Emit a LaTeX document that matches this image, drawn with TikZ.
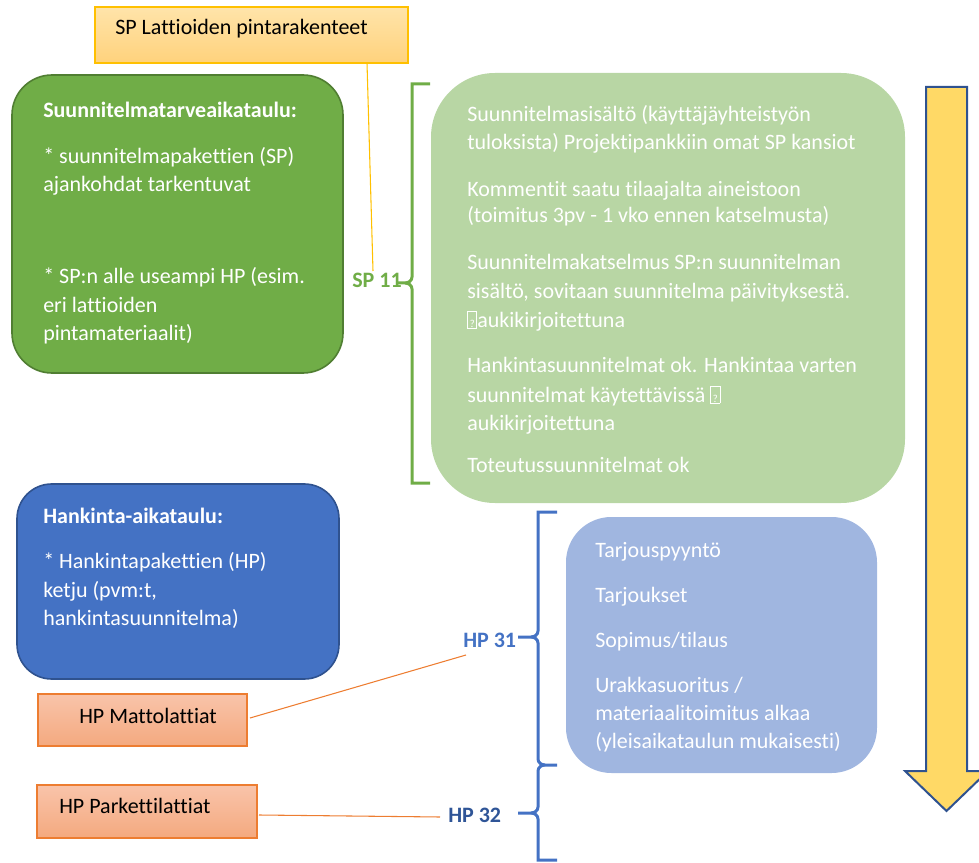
\documentclass[tikz,border=0pt]{standalone}
\usepackage{fontspec}
\setmainfont{Carlito}[Ligatures={NoCommon,NoRequired,NoContextual}]
\definecolor{gA}{HTML}{70AD47}
\definecolor{gB}{HTML}{507E32}
\definecolor{gL}{HTML}{B8D6A4}
\definecolor{bA}{HTML}{4472C4}
\definecolor{bB}{HTML}{2F528F}
\definecolor{bD}{HTML}{2F5597}
\definecolor{bL}{HTML}{A0B6E0}
\definecolor{yT}{HTML}{FFE4AA}
\definecolor{yB}{HTML}{FFD27C}
\definecolor{yE}{HTML}{FFC000}
\definecolor{oT}{HTML}{F9C4AA}
\definecolor{oB}{HTML}{F4A97F}
\definecolor{oE}{HTML}{ED7D31}
\definecolor{arF}{HTML}{FFD966}
\newcommand{\qbox}{\raisebox{-0.5pt}{\fboxsep=0pt\fboxrule=0.6pt\framebox[7.5pt][c]{\rule{0pt}{12pt}\fontsize{8}{8}\selectfont ?}}}
\begin{document}
\begin{tikzpicture}[x=0.75pt,y=-0.75pt,
  txt/.style={anchor=base west, inner sep=0pt, text=white, font=\fontsize{16.5}{21}\selectfont},
  btxt/.style={txt, font=\fontsize{16.5}{21}\selectfont\bfseries},
  ktxt/.style={txt, text=black},
  gbrace/.style={draw=gA, line width=2.25pt},
  bbrace/.style={draw=bA, line width=2.25pt},
  boxbase/.style={inner sep=0pt}
]
\useasboundingbox (0,0) rectangle (979,863);
\clip (0,0) rectangle (979,863);

% arrow
\draw[draw=bB, line width=1.5pt, fill=arF, line join=miter]
  (926,87) -- (967,87) -- (967,771) -- (988,771) -- (946.5,811) -- (905,771) -- (926,771) -- cycle;

% boxes
\node[boxbase, draw=yE, line width=0.8pt, top color=yT, bottom color=yB, minimum width=234.75pt, minimum height=42pt] (yb) at (251.5,35) {};
\node[boxbase, draw=gB, line width=1.2pt, fill=gA, rounded corners=30pt, minimum width=248.25pt, minimum height=223.5pt] (gbox) at (177.5,224) {};
\node[boxbase, fill=gL, rounded corners=48pt, minimum width=355.5pt, minimum height=322.5pt] (lgbox) at (668,288) {};
\node[boxbase, draw=bB, line width=1.2pt, fill=bA, rounded corners=26pt, minimum width=241.5pt, minimum height=146.25pt] (bbox) at (178,581.5) {};
\node[boxbase, fill=bL, rounded corners=34pt, minimum width=233.25pt, minimum height=192pt] (lbbox) at (721.5,645) {};
\node[boxbase, draw=oE, line width=0.8pt, top color=oT, bottom color=oB, minimum width=156.75pt, minimum height=39pt] (ob1) at (142.5,720) {};
\node[boxbase, draw=oE, line width=0.8pt, top color=oT, bottom color=oB, minimum width=165pt, minimum height=39.75pt] (ob2) at (147,811.5) {};

% yellow & orange labels
\node[ktxt] (ybt) at (115,35) {SP Lattioiden pintarakenteet};
\node[ktxt] (ob1t) at (79,723) {HP Mattolattiat};
\node[ktxt] (ob2t) at (59,813) {HP Parkettilattiat};

% green box text
\node[btxt] (g1) at (43,118) {Suunnitelmatarveaikataulu:};
\node[txt] (g2) at (43,164) {* suunnitelmapakettien (SP)};
\node[txt] (g3) at (43,192) {ajankohdat tarkentuvat};
\node[txt] (g4) at (43,283) {* SP:n alle useampi HP (esim.};
\node[txt] (g5) at (43,312) {eri lattioiden};
\node[txt] (g6) at (43,340) {pintamateriaalit)};

% light green text
\node[txt] (l1) at (467,122) {Suunnitelmasisältö (käyttäjäyhteistyön};
\node[txt] (l2) at (467,150) {tuloksista) Projektipankkiin omat SP kansiot};
\node[txt] (l3) at (467,197) {Kommentit saatu tilaajalta aineistoon};
\node[txt] (l4) at (467,223) {(toimitus 3pv - 1 vko ennen katselmusta)};
\node[txt] (l5) at (467,270) {Suunnitelmakatselmus SP:n suunnitelman};
\node[txt] (l6) at (467,298) {sisältö, sovitaan suunnitelma päivityksestä.};
\node[txt] (l7) at (467,327) {\qbox aukikirjoitettuna};
\node[txt] (l8) at (467,372) {Hankintasuunnitelmat ok. Hankintaa varten};
\node[txt] (l9) at (467,402) {suunnitelmat käytettävissä \qbox};
\node[txt] (l10) at (467,430) {aukikirjoitettuna};
\node[txt] (l11) at (467,472) {Toteutussuunnitelmat ok};

% blue box text
\node[btxt] (b1) at (43,523) {Hankinta-aikataulu:};
\node[txt] (b2) at (43,568) {* Hankintapakettien (HP)};
\node[txt] (b3) at (43,597) {ketju (pvm:t,};
\node[txt] (b4) at (43,625) {hankintasuunnitelma)};

% light blue text
\node[txt] (p1) at (595,557) {Tarjouspyyntö};
\node[txt] (p2) at (595,602) {Tarjoukset};
\node[txt] (p3) at (595,647) {Sopimus/tilaus};
\node[txt] (p4) at (595,692) {Urakkasuoritus /};
\node[txt] (p5) at (595,720) {materiaalitoimitus alkaa};
\node[txt] (p6) at (595,748) {(yleisaikataulun mukaisesti)};

% bracket labels
\node[btxt, text=gA] (sp11) at (352,287) {SP 11};
\node[btxt, text=bA] (hp31) at (463,647) {HP 31};
\node[btxt, text=bD] (hp32) at (448,822) {HP 32};

% braces
\draw[gbrace] (430,84) -- (412,84) -- (412,277) to[out=270,in=0] (405,283) -- (396,283);
\draw[gbrace] (405,283) to[out=0,in=90] (412,289) -- (412,483) -- (430,483);
\draw[bbrace] (557,512) -- (538,512) -- (538,631) to[out=270,in=0] (531,637) -- (518,637);
\draw[bbrace] (531,637) to[out=0,in=90] (538,643) -- (538,759) to[out=270,in=180] (545,765) -- (557,765);
\draw[bbrace] (545,765) to[out=180,in=90] (538,771) -- (538,807) to[out=270,in=0] (531,813) -- (518,813);
\draw[bbrace] (531,813) to[out=0,in=90] (538,819) -- (538,860) -- (557,860);

% connectors
\coordinate (c1) at (367,63);
\coordinate (c2) at (373,271);
\draw[draw=yE, line width=0.8pt] (c1) -- (c2);
\coordinate (c3) at (250,718);
\coordinate (c4) at (466,655);
\draw[draw=oE, line width=0.8pt] (c3) -- (c4);
\coordinate (c5) at (259,815);
\coordinate (c6) at (440,817);
\draw[draw=oE, line width=0.8pt] (c5) -- (c6);
\end{tikzpicture}
\end{document}
